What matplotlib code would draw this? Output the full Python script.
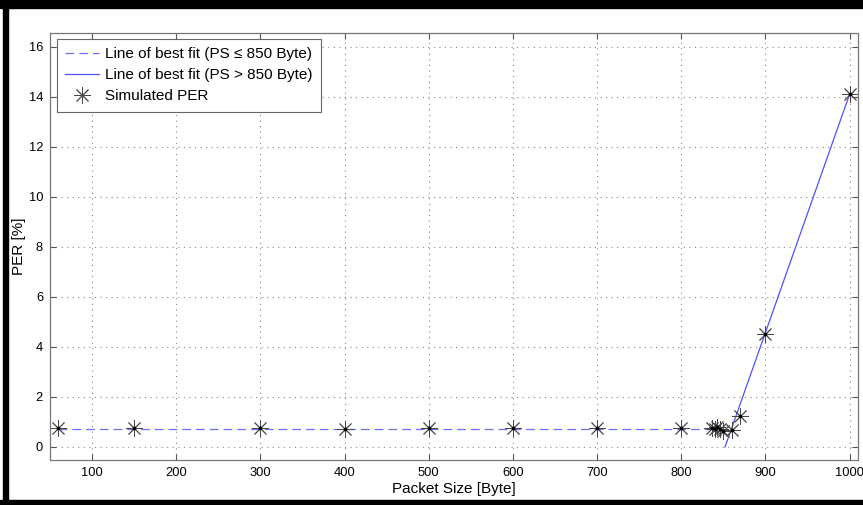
import matplotlib
matplotlib.use("Agg")
import matplotlib.pyplot as plt
from matplotlib.patches import Rectangle

plt.rcParams['font.family'] = ['Liberation Sans', 'DejaVu Sans']

# simulated packet error rate
packet_size = [60, 150, 300, 400, 500, 600, 700, 800,
               836, 840, 843, 846, 850, 860, 870, 900, 1000]
per = [0.74, 0.74, 0.75, 0.72, 0.76, 0.75, 0.74, 0.75,
       0.75, 0.72, 0.78, 0.70, 0.65, 0.68, 1.25, 4.5, 14.1]

# lines of best fit
fit_low_x = [60, 850]
fit_low_y = [0.73, 0.73]
fit_high_x = [852, 1000]
fit_high_y = [0.0, 14.1]

xticks = list(range(100, 1001, 100))
yticks = list(range(0, 17, 2))

W, H = 863, 505
fig = plt.figure(figsize=(W / 100, H / 100), dpi=100)
ax = fig.add_axes([50 / W, 45 / H, 808 / W, 427 / H])

# black frame from the original window capture
fig.patches.append(Rectangle((0, 1 - 8 / H), 1, 8 / H, transform=fig.transFigure,
                             color='black', zorder=10))
fig.patches.append(Rectangle((3 / W, 0), 5 / W, 1, transform=fig.transFigure,
                             color='black', zorder=10))
fig.patches.append(Rectangle((0, 0), 1, 5 / H, transform=fig.transFigure,
                             color='black', zorder=10))

ax.plot(fit_low_x, fit_low_y, color='#6f6fff', lw=0.9, dashes=(7, 4),
        label=u'Line of best fit (PS \u2264 850 Byte)')
ax.plot(fit_high_x, fit_high_y, color='#5050ff', lw=0.9,
        label='Line of best fit (PS > 850 Byte)')
ax.plot(packet_size, per, linestyle='none', marker=(8, 2, 0), markersize=12,
        markeredgecolor='#474747', markeredgewidth=0.65, label='Simulated PER')
ax.plot(packet_size, per, linestyle='none', marker='s', markersize=1.8,
        color='black')

ax.set_xlim(50, 1010)
ax.set_ylim(-0.52, 16.55)
ax.set_xticks(xticks)
ax.set_yticks(yticks)
ax.tick_params(direction='in', length=4, width=0.8, colors='#555555',
               labelcolor='black', labelsize=9.3, top=True, right=True, pad=5)
ax.grid(True, color='#888888', linestyle=(0, (1, 4)), linewidth=0.8)
for s in ax.spines.values():
    s.set_color('#777777')
    s.set_linewidth(0.9)

ax.set_xlabel('Packet Size [Byte]', fontsize=11, labelpad=2)
ax.set_ylabel('PER [%]', fontsize=11)
ax.yaxis.set_label_coords(-0.030, 0.5)

leg = ax.legend(loc='upper left', bbox_to_anchor=(0.0087, 0.986), borderaxespad=0,
                fontsize=11, fancybox=False, framealpha=1, edgecolor='#666666',
                handlelength=2.2, labelspacing=0.45, borderpad=0.55, handletextpad=0.4)
leg.get_frame().set_linewidth(0.8)

fig.savefig('out.png', dpi=100)
